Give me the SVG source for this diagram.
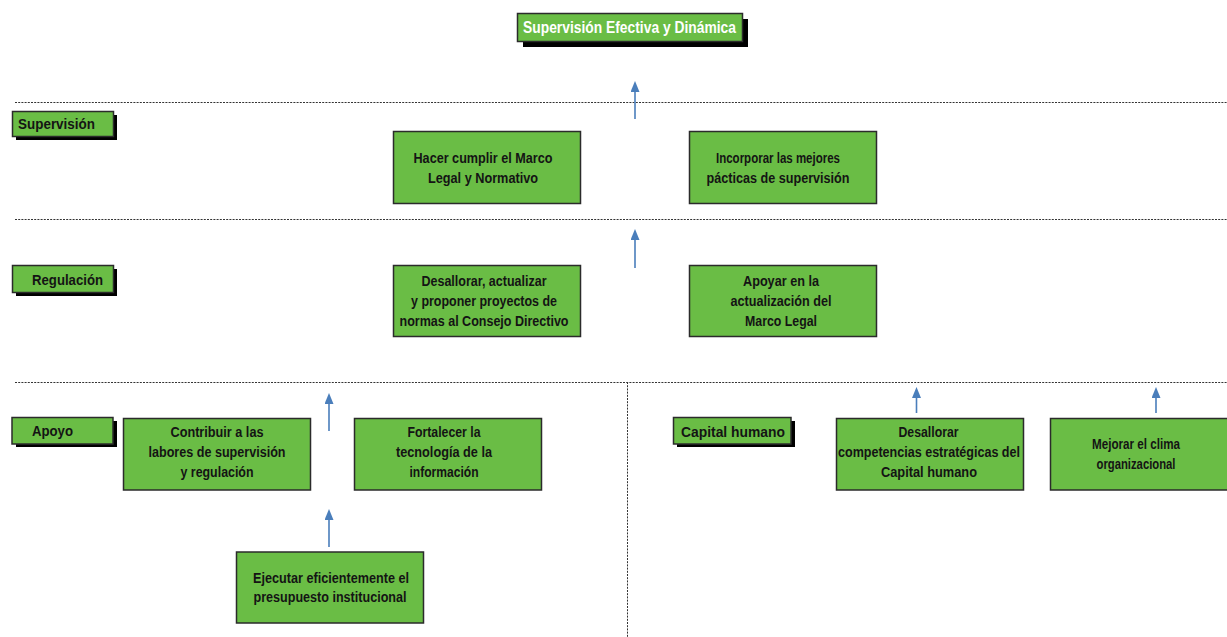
<svg xmlns="http://www.w3.org/2000/svg" width="1227" height="637" viewBox="0 0 1227 637">
<style>
.box{fill:#6abd45;stroke:#2b2b2b;stroke-width:1.5}
.sh{fill:#000}
.t{font-family:"Liberation Sans",Arial,sans-serif;font-weight:bold;font-size:14.5px;fill:#141414;text-anchor:middle}
.lb{font-family:"Liberation Sans",Arial,sans-serif;font-weight:bold;font-size:15px;fill:#141414}
.dot{stroke:#333;stroke-width:1;stroke-dasharray:2 1.2;fill:none}
.arr{stroke:#4a7ebb;stroke-width:1.6;fill:none;marker-end:url(#ah)}
</style>
<defs>
<marker id="ah" markerWidth="11" markerHeight="9" refX="1" refY="4.5" orient="auto" markerUnits="userSpaceOnUse" viewBox="0 0 11 9">
<path d="M0,0 L11,4.5 L0,9 Z" fill="#4a7ebb"/>
</marker>
</defs>
<rect width="1227" height="637" fill="#fff"/>
<g id="separators">
<line class="dot" x1="15" y1="102.5" x2="1227" y2="102.5"/>
<line class="dot" x1="15" y1="219.5" x2="1227" y2="219.5"/>
<line class="dot" x1="15" y1="382.5" x2="1227" y2="382.5"/>
<line class="dot" x1="627.5" y1="382" x2="627.5" y2="637"/>
</g>
<g id="title">
<rect class="sh" x="523" y="19" width="225" height="28"/>
<rect class="box" x="517.5" y="13.5" width="225" height="28"/>
<text x="629.5" y="32.5" font-family="Liberation Sans,Arial,sans-serif" font-weight="bold" font-size="17" fill="#fff" text-anchor="middle" textLength="213" lengthAdjust="spacingAndGlyphs">Supervisión Efectiva y Dinámica</text>
</g>
<g id="label-supervision">
<rect class="sh" x="16" y="115" width="101" height="25"/>
<rect class="box" x="12.5" y="111.5" width="101" height="25"/>
<text class="lb" x="18" y="129" textLength="77" lengthAdjust="spacingAndGlyphs">Supervisión</text>
</g>
<g id="label-regulacion">
<rect class="sh" x="16" y="269" width="101" height="27"/>
<rect class="box" x="12.5" y="265.5" width="101" height="27"/>
<text class="lb" x="32" y="285" textLength="71" lengthAdjust="spacingAndGlyphs">Regulación</text>
</g>
<g id="label-apoyo">
<rect class="sh" x="16" y="421" width="101" height="26"/>
<rect class="box" x="12" y="417.5" width="101" height="26.5"/>
<text class="lb" x="32" y="436" textLength="41" lengthAdjust="spacingAndGlyphs">Apoyo</text>
</g>
<g id="label-capital">
<rect class="sh" x="677" y="421" width="118" height="26"/>
<rect class="box" x="673.5" y="417.5" width="117.5" height="26.5"/>
<text class="lb" x="681" y="437" textLength="104" lengthAdjust="spacingAndGlyphs">Capital humano</text>
</g>
<g id="n-hacer">
<rect class="box" x="393.5" y="131.5" width="187" height="72"/>
<text class="t" x="483" y="163" textLength="139" lengthAdjust="spacingAndGlyphs">Hacer cumplir el Marco</text>
<text class="t" x="483" y="183" textLength="110" lengthAdjust="spacingAndGlyphs">Legal y Normativo</text>
</g>
<g id="n-incorporar">
<rect class="box" x="689.5" y="131.5" width="187" height="72"/>
<text class="t" x="778" y="163" textLength="124" lengthAdjust="spacingAndGlyphs">Incorporar las mejores</text>
<text class="t" x="778" y="183" textLength="143" lengthAdjust="spacingAndGlyphs">pácticas de supervisión</text>
</g>
<g id="n-desallorar-normas">
<rect class="box" x="393.5" y="265.5" width="187" height="71"/>
<text class="t" x="484" y="286" textLength="125" lengthAdjust="spacingAndGlyphs">Desallorar, actualizar</text>
<text class="t" x="484" y="306" textLength="146" lengthAdjust="spacingAndGlyphs">y proponer proyectos de</text>
<text class="t" x="484" y="326" textLength="169" lengthAdjust="spacingAndGlyphs">normas al Consejo Directivo</text>
</g>
<g id="n-apoyar">
<rect class="box" x="689.5" y="265.5" width="187" height="71"/>
<text class="t" x="781" y="286" textLength="76" lengthAdjust="spacingAndGlyphs">Apoyar en la</text>
<text class="t" x="781" y="306" textLength="101" lengthAdjust="spacingAndGlyphs">actualización del</text>
<text class="t" x="781" y="326" textLength="72" lengthAdjust="spacingAndGlyphs">Marco Legal</text>
</g>
<g id="n-contribuir">
<rect class="box" x="123.5" y="418.5" width="187" height="71.5"/>
<text class="t" x="217" y="437" textLength="93" lengthAdjust="spacingAndGlyphs">Contribuir a las</text>
<text class="t" x="217" y="457" textLength="137" lengthAdjust="spacingAndGlyphs">labores de supervisión</text>
<text class="t" x="217" y="477" textLength="73" lengthAdjust="spacingAndGlyphs">y regulación</text>
</g>
<g id="n-fortalecer">
<rect class="box" x="354.5" y="418.5" width="187" height="71.5"/>
<text class="t" x="444" y="437" textLength="73" lengthAdjust="spacingAndGlyphs">Fortalecer la</text>
<text class="t" x="444" y="457" textLength="96" lengthAdjust="spacingAndGlyphs">tecnología de la</text>
<text class="t" x="444" y="477" textLength="69" lengthAdjust="spacingAndGlyphs">información</text>
</g>
<g id="n-competencias">
<rect class="box" x="836.5" y="418.5" width="187" height="71.5"/>
<text class="t" x="928.5" y="437" textLength="60" lengthAdjust="spacingAndGlyphs">Desallorar</text>
<text class="t" x="929" y="457" textLength="182" lengthAdjust="spacingAndGlyphs">competencias estratégicas del</text>
<text class="t" x="929" y="477" textLength="96" lengthAdjust="spacingAndGlyphs">Capital humano</text>
</g>
<g id="n-clima">
<rect class="box" x="1050.5" y="418.5" width="187" height="71.5"/>
<text class="t" x="1136" y="449" textLength="88" lengthAdjust="spacingAndGlyphs">Mejorar el clima</text>
<text class="t" x="1136" y="469" textLength="79" lengthAdjust="spacingAndGlyphs">organizacional</text>
</g>
<g id="n-ejecutar">
<rect class="box" x="236.5" y="552" width="187" height="71"/>
<text class="t" x="331" y="583" textLength="156" lengthAdjust="spacingAndGlyphs">Ejecutar eficientemente el</text>
<text class="t" x="330" y="602" textLength="153" lengthAdjust="spacingAndGlyphs">presupuesto institucional</text>
</g>
<g id="connectors">
<line class="arr" x1="635" y1="119" x2="635" y2="91"/>
<line class="arr" x1="635" y1="268" x2="635" y2="239"/>
<line class="arr" x1="329" y1="431" x2="329" y2="403"/>
<line class="arr" x1="329" y1="547" x2="329" y2="519"/>
<line class="arr" x1="916.5" y1="413" x2="916.5" y2="397"/>
<line class="arr" x1="1156" y1="413" x2="1156" y2="397"/>
</g>
</svg>
